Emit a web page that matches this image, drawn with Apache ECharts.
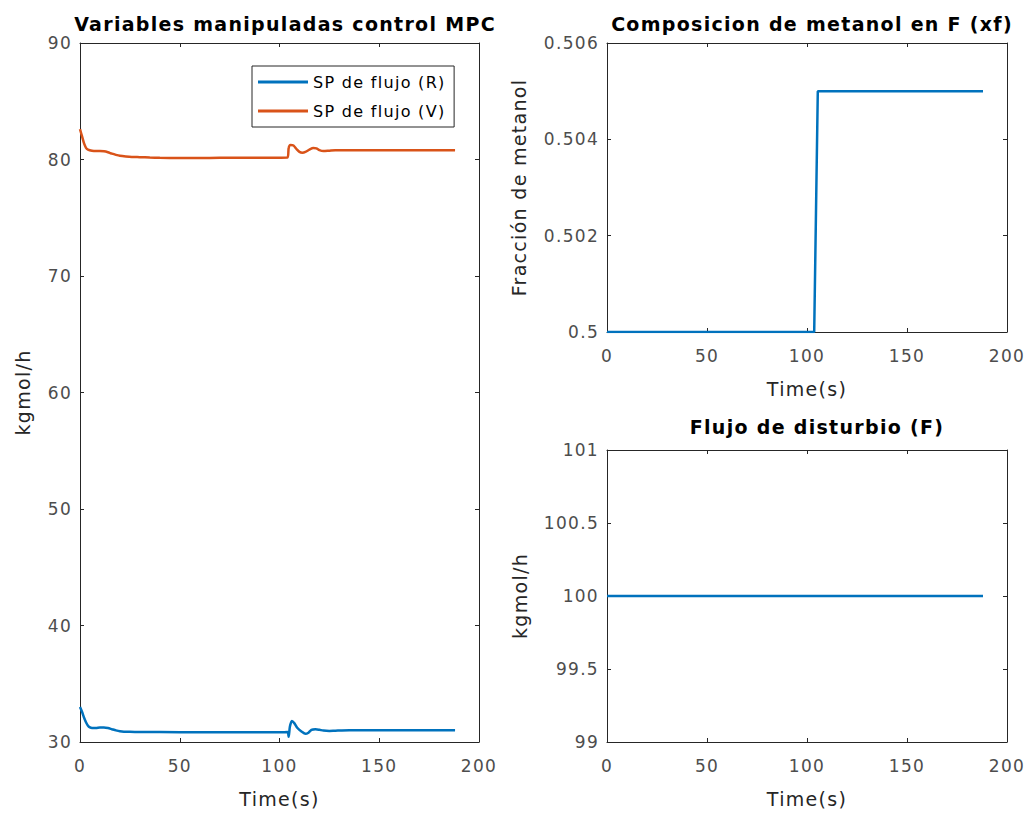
<!DOCTYPE html>
<html>
<head>
<meta charset="utf-8">
<script src="https://cdn.jsdelivr.net/npm/echarts@6/dist/echarts.min.js"></script>
<style>
  html, body { margin: 0; padding: 0; background: #fff; }
  #chart { width: 1029px; height: 817px; }
  /* slightly open tracking for all chart text */
  #chart text { letter-spacing: 1.3px; }
</style>
</head>
<body>
<div id="chart"></div>
<script>
// Manipulated variables (setpoints) of the MPC controller
const tV = [0, 1, 2, 3, 4, 6, 8, 10, 12, 14, 16, 18, 20, 23, 26, 30, 35, 40, 50, 60, 70, 80, 90, 100, 104, 104.6, 105.5, 107, 108.5, 110, 111.5, 113, 115, 117, 118.5, 120, 122, 125, 128, 135, 150, 170, 188];
const spV = [82.6, 82.0, 81.4, 81.0, 80.85, 80.75, 80.72, 80.72, 80.7, 80.62, 80.5, 80.4, 80.32, 80.26, 80.22, 80.2, 80.17, 80.15, 80.13, 80.13, 80.14, 80.15, 80.15, 80.16, 80.17, 81.0, 81.25, 81.2, 80.9, 80.65, 80.58, 80.65, 80.85, 80.98, 80.95, 80.8, 80.72, 80.76, 80.8, 80.8, 80.8, 80.8, 80.8];

const tR = [0, 1, 2, 3, 4, 5, 6, 8, 10, 12, 14, 16, 18, 20, 22, 25, 30, 40, 60, 80, 100, 104, 104.6, 105.2, 106.2, 107.5, 109, 111, 113, 114.5, 116, 118, 120, 122, 125, 128, 135, 150, 170, 188];
const spR = [33.0, 32.6, 32.1, 31.7, 31.4, 31.25, 31.2, 31.2, 31.25, 31.25, 31.2, 31.1, 31.0, 30.92, 30.88, 30.87, 30.86, 30.85, 30.83, 30.83, 30.83, 30.85, 30.45, 31.3, 31.8, 31.6, 31.2, 30.9, 30.7, 30.8, 31.05, 31.1, 31.05, 30.98, 30.95, 30.97, 31.0, 31.0, 31.0, 31.0];

// Feed methanol composition step
const tXf = [0, 103.6, 105.4, 188];
const xf = [0.5, 0.5, 0.505, 0.505];

// Disturbance feed flow
const tF = [0, 188];
const flowF = [100, 100];

// Axis ticks
const timeTicks = [0, 50, 100, 150, 200];
const leftTicks = [30, 40, 50, 60, 70, 80, 90];
const xfTicks = ['0.5', '0.502', '0.504', '0.506'];
const fTicks = ['99', '99.5', '100', '100.5', '101'];

const seriesNames = ['SP de flujo (R)', 'SP de flujo (V)'];
const titles = ['Variables manipuladas control MPC', 'Composicion de metanol en F (xf)', 'Flujo de disturbio (F)'];

const BLUE = '#0072BD';
const ORANGE = '#D95319';
const AX = '#262626';
const FONT = '"DejaVu Sans", Verdana, sans-serif';

const pairs = (t, v) => t.map((x, i) => [x, v[i]]);

const grids = [
  { left: 80, right: 550, top: 43, bottom: 75 },
  { left: 607, right: 22, top: 43, bottom: 485 },
  { left: 607, right: 22, top: 450, bottom: 75 }
];

const labelStyle = { color: '#4d4d4d', fontSize: 17, fontFamily: FONT };
const nameStyle = { color: '#262626', fontSize: 19, fontFamily: FONT };
const titleStyle = { fontSize: 19, fontWeight: 'bold', color: '#000', fontFamily: FONT };

const tickStyle = { show: true, inside: true, length: 4, lineStyle: { color: AX } };
const lineStyleAx = { show: true, onZero: false, lineStyle: { color: AX, width: 1 } };

function xAxes(g) {
  const base = {
    type: 'value', gridIndex: g,
    min: timeTicks[0], max: timeTicks[timeTicks.length - 1], interval: 50,
    axisLine: lineStyleAx, axisTick: tickStyle, splitLine: { show: false }
  };
  return [
    Object.assign({}, base, {
      position: 'bottom',
      name: 'Time(s)', nameLocation: 'middle', nameGap: 47, nameTextStyle: nameStyle,
      axisLabel: Object.assign({ margin: 15 }, labelStyle)
    }),
    Object.assign({}, base, { position: 'top', axisLabel: { show: false } })
  ];
}

function yAxes(g, min, max, interval, name, nameGap, fmt) {
  const base = {
    type: 'value', gridIndex: g,
    min: min, max: max, interval: interval,
    axisLine: lineStyleAx, axisTick: tickStyle, splitLine: { show: false }
  };
  return [
    Object.assign({}, base, {
      position: 'left',
      name: name, nameLocation: 'middle', nameGap: nameGap, nameTextStyle: nameStyle,
      axisLabel: Object.assign({ margin: 8, formatter: fmt, padding: [3, 0, 0, 0] }, labelStyle)
    }),
    Object.assign({}, base, { position: 'right', axisLabel: { show: false } })
  ];
}

const xfFmt = v => {
  const i = Math.round((v - 0.5) / 0.002);
  return xfTicks[i] !== undefined ? xfTicks[i] : '';
};
const fFmt = v => {
  const i = Math.round((v - 99) / 0.5);
  return fTicks[i] !== undefined ? fTicks[i] : '';
};

const chart = echarts.init(document.getElementById('chart'), null, { renderer: 'svg' });

const lineSeries = (name, data, color, xi, yi, smooth) => ({
  name: name, type: 'line', data: data,
  xAxisIndex: xi, yAxisIndex: yi,
  showSymbol: false, symbol: 'none', smooth: smooth,
  lineStyle: { color: color, width: 2.5 },
  itemStyle: { color: color },
  animation: false
});

chart.setOption({
  animation: false,
  backgroundColor: '#ffffff',
  title: [
    { text: titles[0], left: 280, top: 9, textAlign: 'center', textStyle: titleStyle },
    { text: titles[1], left: 807, top: 9, textAlign: 'center', textStyle: titleStyle },
    { text: titles[2], left: 812, top: 412, textAlign: 'center', textStyle: titleStyle }
  ],
  legend: {
    data: seriesNames.map(n => ({ name: n, icon: 'rect' })),
    orient: 'vertical',
    left: 252, top: 66,
    itemWidth: 50, itemHeight: 3, itemGap: 11,
    padding: [7, 28, 7, 6],
    borderColor: '#262626', borderWidth: 1, backgroundColor: '#fff',
    textStyle: { fontSize: 16, lineHeight: 18, color: '#000', fontFamily: FONT },
    selectedMode: false
  },
  grid: grids,
  xAxis: [].concat(xAxes(0), xAxes(1), xAxes(2)),
  yAxis: [].concat(
    yAxes(0, leftTicks[0], leftTicks[leftTicks.length - 1], 10, 'kgmol/h', 48, v => String(v)),
    yAxes(1, 0.5, 0.506, 0.002, 'Fracción de metanol', 79, xfFmt),
    yAxes(2, 99, 101, 0.5, 'kgmol/h', 78, fFmt)
  ),
  series: [
    lineSeries(seriesNames[0], pairs(tR, spR), BLUE, 0, 0, 0.25),
    lineSeries(seriesNames[1], pairs(tV, spV), ORANGE, 0, 0, 0.25),
    lineSeries('xf', pairs(tXf, xf), BLUE, 2, 2, false),
    lineSeries('F', pairs(tF, flowF), BLUE, 4, 4, false)
  ]
});
</script>
</body>
</html>
